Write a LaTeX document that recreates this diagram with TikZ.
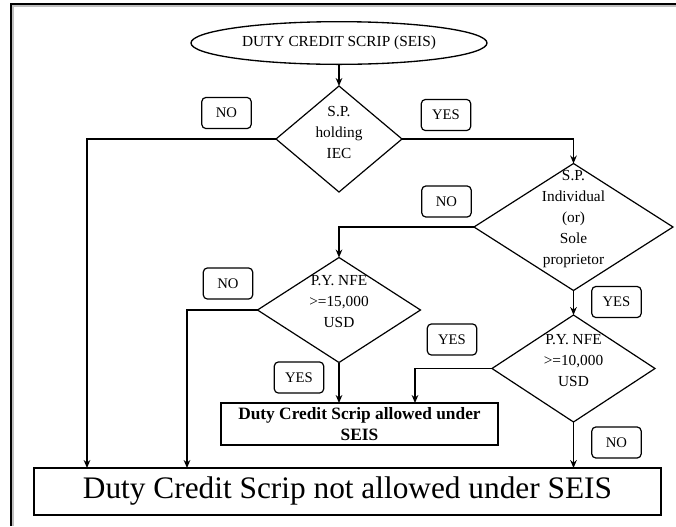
\documentclass[tikz,border=0pt]{standalone}
\usepackage{fontspec}
\setmainfont{Liberation Serif}
\usetikzlibrary{shapes.geometric,arrows.meta}
\begin{document}
\begin{tikzpicture}[x=0.75pt,y=-0.75pt,
  every node/.style={inner sep=0pt,outer sep=0pt},
  dmd/.style={draw,diamond,line width=0.9pt},
  lab/.style={draw,rounded corners=3pt,line width=0.9pt,minimum width=37pt,minimum height=23.25pt,font=\fontsize{11}{13}\selectfont},
  dtxt/.style={align=center,font=\fontsize{11.5}{15.75}\selectfont},
  conn/.style={line width=1.4pt,-{Stealth[length=6pt,width=5pt]}},
  plain/.style={line width=1.4pt}]
\useasboundingbox (0,0) rectangle (676,526);
% frame
\draw[line width=1.5pt,gray!50] (12.5,526) -- (12.5,5.5) -- (676,5.5);
\draw[line width=1.5pt] (11,526) -- (11,4) -- (676,4);
% start
\node[draw,ellipse,line width=1pt,minimum width=222pt,minimum height=32pt,font=\fontsize{11.5}{14}\selectfont] (start) at (339,43) {DUTY CREDIT SCRIP (SEIS)};
% diamonds
\node[dmd,minimum width=94.5pt,minimum height=79.5pt] (d1) at (339,139) {};
\node[dtxt] (t1) at (339,132) {S.P.\\holding\\IEC};
\node[dmd,minimum width=149.25pt,minimum height=95.25pt] (d2) at (573.5,227) {};
\node[dtxt] (t2) at (573.5,219) {S.P.\\Individual\\(or)\\Sole\\proprietor};
\node[dmd,minimum width=122.25pt,minimum height=78.75pt] (d3) at (339,310) {};
\node[dtxt] (t3) at (339,302) {P.Y. NFE\\>=15,000\\USD};
\node[dmd,minimum width=122.25pt,minimum height=80.25pt] (d4) at (573.5,368.5) {};
\node[dtxt] (t4) at (573.5,361) {P.Y. NFE\\>=10,000\\USD};
% result boxes
\node[draw,line width=0.9pt,minimum width=207.75pt,minimum height=31.5pt,align=center,font=\bfseries\fontsize{13}{15.75}\selectfont] (ok) at (359.5,424) {Duty Credit Scrip allowed under\\SEIS};
\node[draw,line width=0.9pt,minimum width=470.25pt,minimum height=35.25pt,font=\fontsize{23.5}{26}\selectfont] (notok) at (347.5,491.5) {Duty Credit Scrip not allowed under SEIS};
% labels
\node[lab] (no1) at (226.5,113) {NO};
\node[lab] (yes1) at (446,115) {YES};
\node[lab] (no2) at (446.5,201.5) {NO};
\node[lab] (yes2) at (616.5,302) {YES};
\node[lab] (no3) at (228,283.5) {NO};
\node[lab] (yes3) at (452,339.5) {YES};
\node[lab] (yes4) at (299,377.5) {YES};
\node[lab] (no4) at (616.5,442.5) {NO};
% helper coordinates
\coordinate (xa) at (87,0);
\coordinate (xb) at (187,0);
\coordinate (xc) at (415,0);
% connectors
\draw[conn] (start.south) -- (d1.north);
\draw[conn] (d1.west) -| (notok.north -| xa);
\draw[conn] (d1.east) -| (d2.north);
\draw[conn] (d2.west) -| (d3.north);
\draw[conn] (d3.west) -| (notok.north -| xb);
\draw[conn] (d3.south) -- (ok.north -| d3.south);
\draw[conn] (d2.south) -- (d4.north);
\draw[conn] (d4.west) -| (ok.north -| xc);
\draw[conn] (d4.south) -- (notok.north -| d4.south);
\end{tikzpicture}
\end{document}
